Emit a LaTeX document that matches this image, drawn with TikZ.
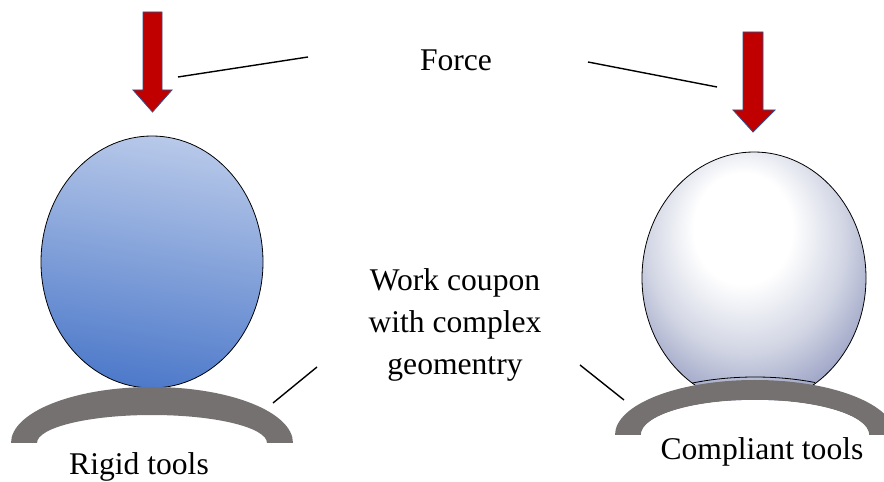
\documentclass[tikz,border=0pt]{standalone}
\usepackage{fontspec}
\setmainfont{Liberation Serif}
\definecolor{arrowred}{RGB}{192,0,0}
\definecolor{arrowedge}{RGB}{47,82,143}
\definecolor{toolgray}{RGB}{118,113,113}
\definecolor{rtop}{RGB}{183,200,233}
\definecolor{rbot}{RGB}{78,122,202}
\definecolor{cbot}{RGB}{140,148,188}
\definecolor{cmid}{RGB}{210,214,228}
\pgfdeclareverticalshading{rigidshade}{100bp}{color(0bp)=(rbot); color(25bp)=(rbot); color(75bp)=(rtop); color(100bp)=(rtop)}
\pgfdeclareradialshading{complshade}{\pgfpoint{-3bp}{12bp}}{color(0bp)=(white); color(11bp)=(white); color(22bp)=(cmid); color(34bp)=(cbot); color(60bp)=(cbot)}
\tikzset{
  forcearrow/.style={fill=arrowred, draw=arrowedge, line width=0.8pt},
  toolband/.style={fill=toolgray},
  leader/.style={draw=black, line width=1.4pt},
  lbl/.style={font=\fontsize{31.6}{42}\selectfont, align=center, inner sep=0pt},
  ballline/.style={draw=black, line width=0.8pt}
}
\begin{document}
\begin{tikzpicture}[x=1pt,y=1pt]
\useasboundingbox (0,0) rectangle (884,482);
\clip (0,0) rectangle (884,482);
\fill[white] (0,0) rectangle (884,482);

% Left (rigid) set
\draw[forcearrow] (143,470) -- (162,470) -- (162,392) -- (172,392) -- (152.5,370) -- (133,392) -- (143,392) -- cycle;
\shade[shading=rigidshade, shading angle=-10, ballline] (152,220) ellipse[x radius=111, y radius=126];
\fill[toolband] (11,39) arc[start angle=180, end angle=0, x radius=141, y radius=56]
  -- (267,39) arc[start angle=0, end angle=180, x radius=115, y radius=28] -- cycle;

% Right (compliant) set
\draw[forcearrow] (743,450) -- (763,450) -- (763,372) -- (775,372) -- (753,350) -- (733,372) -- (743,372) -- cycle;
\shade[shading=complshade, ballline] (754,204) ellipse[x radius=112, y radius=126];
\fill[toolband] (615,47) arc[start angle=180, end angle=0, x radius=140, y radius=55]
  -- (869,47) arc[start angle=0, end angle=180, x radius=114, y radius=35] -- cycle;
\fill[white] (641,47) arc[start angle=180, end angle=0, x radius=114, y radius=35] -- cycle;
\draw[ballline] (755,47) ++(116.5:141 and 58) arc[start angle=116.5, end angle=64.8, x radius=141, y radius=58];

% Labels
\node[lbl] (force) at (456,422) {Force};
\node[lbl] (work) at (455,157) {Work coupon\\with complex\\geomentry};
\node[lbl] (rigid) at (139,15) {Rigid tools};
\node[lbl] (compl) at (762,30) {Compliant tools};

% Leader line ends
\coordinate (fl1) at (178,405);
\coordinate (fl2) at (308,425);
\coordinate (fr1) at (588,420);
\coordinate (fr2) at (717,395);
\coordinate (wl1) at (317,115);
\coordinate (wl2) at (273,79);
\coordinate (wr1) at (580,117);
\coordinate (wr2) at (624,82);
\draw[leader] (fl2) -- (fl1);
\draw[leader] (fr1) -- (fr2);
\draw[leader] (wl1) -- (wl2);
\draw[leader] (wr1) -- (wr2);
\end{tikzpicture}
\end{document}
